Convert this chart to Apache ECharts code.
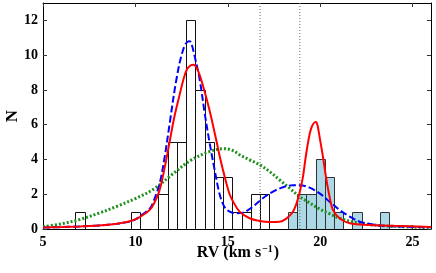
<!DOCTYPE html>
<html><head><meta charset="utf-8">
<script src="https://cdn.jsdelivr.net/npm/echarts@6/dist/echarts.min.js"></script>
<style>html,body{margin:0;padding:0;background:#fff}#c{width:436px;height:273px}</style>
</head><body><div id="c"></div>
<script>
// ---- data ----
const binWidth = 0.5;
const whiteCenters = [7.0, 10.0, 11.5, 12.0, 12.5, 13.0, 13.5, 14.0, 14.5, 15.0, 15.5, 16.0, 16.5, 17.0];
const whiteCounts  = [1,   1,    2,    5,    5,    12,   8,    5,    3,    3,    1,    1,    2,    2];
const blueCenters  = [18.5, 19.0, 19.5, 20.0, 20.5, 21.0, 22.0, 23.5];
const blueCounts   = [1,    2,    2,    4,    3,    1,    1,    1];
const vLines = [16.75, 18.9];
const xTicks = [5, 10, 15, 20, 25];
const yTicks = [0, 2, 4, 6, 8, 10, 12];
const xTitle = '{n|RV (km s}{s|−1}{n|)}';
const yTitle = 'N';
const redCurve = [[5,0.08],[6,0.11],[7,0.15],[8,0.2],[9,0.3],[9.5,0.4],[10,0.55],[10.4,0.8],[10.78,1.1],[11.0,1.45],
 [11.3,2.2],[11.6,3.6],[11.85,5.0],[12.1,6.4],[12.39,7.7],[12.6,8.6],[12.8,9.2],[13.0,9.42],[13.15,9.45],[13.3,9.3],
 [13.48,8.85],[13.75,7.9],[14.02,6.8],[14.38,5.1],[14.56,4.2],[14.74,3.4],[14.92,2.65],[15.1,2.0],[15.28,1.6],[15.64,1.0],
 [16.18,0.62],[16.73,0.46],[17.27,0.4],[17.81,0.42],[18.17,0.6],[18.5,0.95],[18.7,1.4],[18.89,2.1],[19.07,3.0],[19.2,4.0],
 [19.35,5.0],[19.52,5.8],[19.76,6.15],[19.85,6.0],[19.97,5.3],[20.15,4.17],[20.33,2.9],[20.51,1.86],[20.69,1.1],[21.05,0.62],
 [21.6,0.33],[22.69,0.23],[24.0,0.18],[26.0,0.12]];
const blueCurve = [[5,0.08],[6,0.11],[7,0.15],[8,0.2],[9,0.3],[9.5,0.38],[10,0.55],[10.4,0.85],[10.77,1.15],[10.95,1.5],
 [11.31,2.6],[11.59,4.17],[11.86,6.1],[12.22,8.6],[12.58,10.3],[12.88,10.8],[13.0,10.75],[13.21,9.93],[13.48,8.6],[13.75,6.67],
 [14.02,4.94],[14.29,3.4],[14.56,2.0],[14.83,1.25],[15.1,1.0],[15.46,0.9],[15.82,0.94],[16.36,1.29],[16.9,1.77],[17.45,2.15],
 [17.99,2.4],[18.53,2.52],[18.89,2.52],[19.43,2.38],[19.97,2.05],[20.51,1.57],[21.05,1.1],[21.6,0.71],[22.14,0.42],[22.69,0.29],
 [23.23,0.2],[24,0.15],[26,0.1]];
const greenCurve = [[5,0.13],[6,0.3],[7,0.55],[8,0.9],[9,1.3],[10,1.75],[11,2.3],[12,3.15],[13,3.95],[14,4.45],[14.8,4.62],
 [15.3,4.5],[15.64,4.27],[16.18,3.98],[16.73,3.69],[17.27,3.3],[17.81,2.82],[18.35,2.35],[18.89,1.86],[19.43,1.5],[19.97,1.15],
 [20.51,0.88],[21.05,0.62],[22.14,0.33],[23.23,0.2],[24.5,0.13],[26,0.08]];

// ---- chart ----
const FONT = '"Liberation Serif", "DejaVu Serif", serif';
function hist(centers, counts, fill, stroke) {
  return {
    type: 'custom', z: 2, clip: true,
    data: centers.map((c, i) => [c - binWidth / 2, c + binWidth / 2, counts[i]]),
    encode: { x: [0, 1], y: 2 },
    renderItem: (params, api) => {
      const p0 = api.coord([api.value(0), 0]);
      const p1 = api.coord([api.value(1), api.value(2)]);
      return { type: 'rect',
        shape: { x: Math.round(p0[0]) + 0.5, y: Math.round(p1[1]) + 0.5,
                 width: Math.round(p1[0]) - Math.round(p0[0]), height: Math.round(p0[1]) - Math.round(p1[1]) },
        style: { fill: fill, stroke: stroke, lineWidth: 1 } };
    }
  };
}
function curve(data, color, width, type) {
  return { type: 'line', data: data, showSymbol: false, smooth: 0.35, z: 4,
    lineStyle: { color: color, width: width, type: type }, silent: true };
}
const axisCommon = {
  min: 0, max: 0, type: 'value',
  axisLine: { show: true, onZero: false, lineStyle: { color: '#000', width: 1 } },
  axisTick: { show: true, inside: true, length: 4, lineStyle: { color: '#333' } },
  splitLine: { show: false }
};
const lbl = { color: '#000', fontFamily: FONT, fontWeight: 'bold', fontSize: 14 };
const option = {
  animation: false,
  backgroundColor: '#fff',
  grid: { left: 43, right: 5, top: 3, height: 226, containLabel: false, outerBoundsMode: 'none' },
  graphic: [
    { type: 'text', x: 238, y: 244, z: 10, silent: true,
      style: { text: xTitle, align: 'center', verticalAlign: 'top',
        rich: {
          n: { fontFamily: FONT, fontWeight: 'bold', fontSize: 16, fill: '#000', lineHeight: 18 },
          s: { fontFamily: FONT, fontWeight: 'bold', fontSize: 10, fill: '#000', verticalAlign: 'top', lineHeight: 18, padding: [0, 1, 6, 1] } } } },
    { type: 'text', x: 4, y: 116, rotation: Math.PI / 2, z: 10, silent: true,
      style: { text: yTitle, align: 'center', verticalAlign: 'top', fontFamily: FONT, fontWeight: 'bold', fontSize: 17, fill: '#000' } }
  ],
  xAxis: [
    Object.assign({}, axisCommon, { min: 5, max: 26, interval: 5, position: 'bottom',
      axisLabel: Object.assign({ margin: 6, customValues: xTicks }, lbl),
      axisTick: Object.assign({}, axisCommon.axisTick, { customValues: xTicks }) }),
    Object.assign({}, axisCommon, { min: 5, max: 26, interval: 5, position: 'top',
      axisLabel: { show: false }, axisTick: Object.assign({}, axisCommon.axisTick, { customValues: xTicks }) })
  ],
  yAxis: [
    Object.assign({}, axisCommon, { min: 0, max: 13, interval: 2, position: 'left',
      axisLabel: Object.assign({ margin: 5, customValues: yTicks }, lbl),
      axisTick: Object.assign({}, axisCommon.axisTick, { customValues: yTicks }) }),
    Object.assign({}, axisCommon, { min: 0, max: 13, interval: 2, position: 'right',
      axisLabel: { show: false }, axisTick: Object.assign({}, axisCommon.axisTick, { customValues: yTicks }) })
  ],
  series: [
    hist(whiteCenters, whiteCounts, '#ffffff', '#111'),
    hist(blueCenters, blueCounts, '#add8e6', '#333'),
    ...vLines.map(v => ({ type: 'line', data: [[v, 0], [v, 13]], showSymbol: false, z: 3, silent: true,
      lineStyle: { color: '#666', width: 1, type: [1, 2] } })),
    curve(greenCurve, '#1f8f1f', 3, [2, 2]),
    curve(blueCurve, '#0000ff', 2, [7, 3]),
    curve(redCurve, '#ff0000', 2, 'solid')
  ]
};
const chart = echarts.init(document.getElementById('c'), null, { renderer: 'canvas' });
chart.setOption(option);
</script></body></html>
